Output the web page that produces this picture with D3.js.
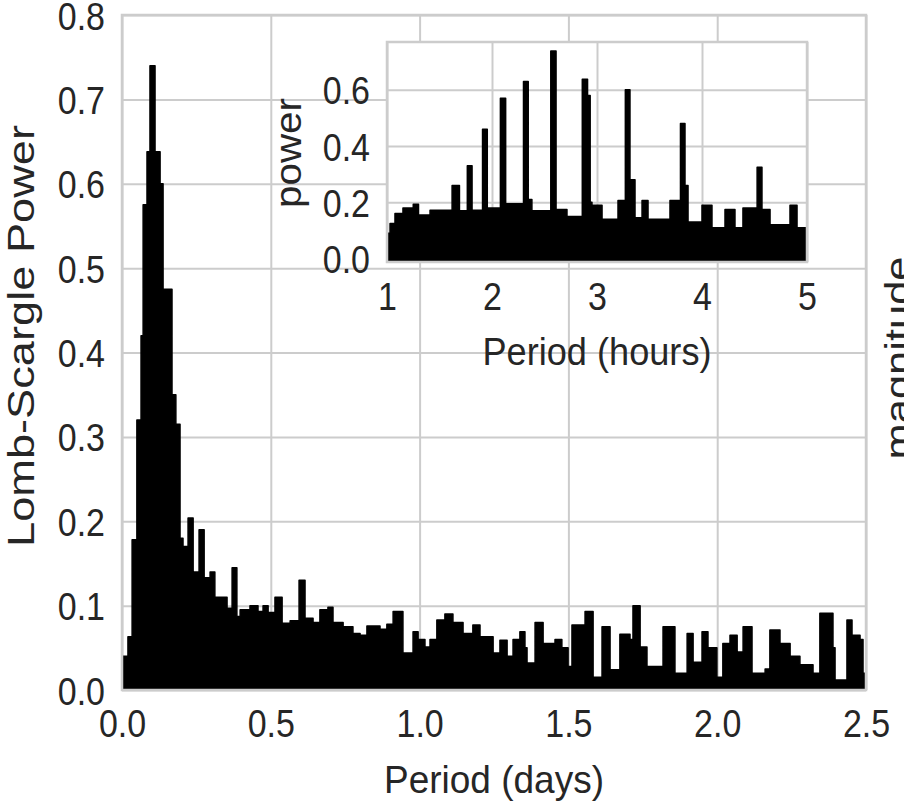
<!DOCTYPE html>
<html lang="en">
<head>
  <meta charset="utf-8">
  <script src="https://cdn.jsdelivr.net/npm/d3@7"></script>
  <style>
    body{margin:0;background:#fff;}
    text{font-family:"Liberation Sans",Arial,sans-serif;fill:#262626;}
    .grid line{stroke:#cccccc;stroke-width:2px;}
    .grid path{display:none;}
    .axis path,.axis line{display:none;}
  </style>
</head>
<body>
<svg id="chart" width="904" height="801"></svg>
<script>
// main periodogram (period in days, Lomb-Scargle power)
var mainPeriod=[0.000,0.020,0.034,0.050,0.064,0.071,0.084,0.094,0.111,0.128,0.138,0.168,0.181,0.195,0.205,0.222,0.239,0.259,0.276,0.296,
  0.312,0.353,0.370,0.386,0.397,0.430,0.457,0.474,0.491,0.514,0.538,0.565,0.595,0.615,0.642,0.665,0.692,0.709,0.743,0.776,
  0.800,0.823,0.867,0.890,0.911,0.944,0.978,0.995,1.018,1.035,1.058,1.085,1.112,1.146,1.179,1.203,1.247,1.270,1.294,1.314,
  1.337,1.354,1.361,1.388,1.415,1.455,1.478,1.499,1.512,1.556,1.583,1.613,1.640,1.673,1.707,1.717,1.741,1.764,1.818,1.858,
  1.899,1.919,1.949,1.969,1.999,2.019,2.043,2.067,2.087,2.117,2.161,2.177,2.211,2.245,2.278,2.322,2.345,2.389,2.396,2.436,
  2.453,2.480,2.490,2.500];
var mainPower=[0.040,0.063,0.178,0.320,0.420,0.575,0.638,0.740,0.638,0.600,0.475,0.350,0.315,0.180,0.170,0.204,0.140,0.190,0.133,0.140,
  0.110,0.097,0.145,0.087,0.095,0.100,0.093,0.100,0.092,0.110,0.079,0.082,0.130,0.085,0.080,0.095,0.098,0.080,0.075,0.067,
  0.065,0.076,0.072,0.078,0.093,0.044,0.069,0.060,0.051,0.060,0.083,0.090,0.080,0.067,0.077,0.063,0.044,0.059,0.040,0.060,
  0.069,0.050,0.032,0.080,0.055,0.060,0.050,0.028,0.077,0.093,0.015,0.075,0.024,0.066,0.060,0.100,0.051,0.028,0.075,0.020,
  0.067,0.033,0.069,0.050,0.015,0.055,0.065,0.045,0.075,0.020,0.025,0.071,0.055,0.040,0.030,0.020,0.091,0.050,0.012,0.083,
  0.065,0.060,0.020,0.020];

// inset periodogram (period in hours)
var insetPeriod=[1.000,1.029,1.076,1.152,1.250,1.300,1.410,1.620,1.690,1.765,1.810,1.910,1.955,2.080,2.130,2.300,2.345,2.380,2.560,2.610,
  2.714,2.860,2.910,2.935,2.952,3.048,3.200,3.270,3.314,3.362,3.429,3.486,3.695,3.795,3.838,3.867,4.000,4.095,4.219,4.314,
  4.390,4.525,4.571,4.648,4.838,4.905,5.000];
var insetPower=[0.090,0.125,0.160,0.180,0.193,0.155,0.172,0.260,0.170,0.330,0.172,0.460,0.180,0.570,0.195,0.630,0.210,0.170,0.738,0.175,
  0.150,0.638,0.580,0.200,0.190,0.140,0.207,0.600,0.280,0.145,0.207,0.140,0.207,0.480,0.260,0.130,0.190,0.110,0.175,0.110,
  0.180,0.325,0.175,0.120,0.190,0.110,0.110];

var mainXTicks=[0,0.5,1,1.5,2,2.5];
var mainYTicks=[0,0.1,0.2,0.3,0.4,0.5,0.6,0.7,0.8];
var insetXTicks=[1,2,3,4,5];
var insetYTicks=[0,0.2,0.4,0.6];

var svg=d3.select("#chart");
var fmt=d3.format(".1f");
var stretch="scale(1,1.15)";

//Main axes
var mx=d3.scaleLinear().domain([0,2.5]).range([122,866]);
var my=d3.scaleLinear().domain([0,0.8]).range([690,15]);

svg.append("g").attr("class","grid")
  .attr("transform","translate(0,690)")
  .call(d3.axisBottom(mx).tickValues(mainXTicks).tickSize(-675).tickFormat(""));
svg.append("g").attr("class","grid")
  .attr("transform","translate(122,0)")
  .call(d3.axisLeft(my).tickValues(mainYTicks).tickSize(-744).tickFormat(""));

svg.append("clipPath").attr("id","mainclip")
  .append("rect").attr("x",122).attr("y",15).attr("width",744).attr("height",675);

var mainData=mainPeriod.map(function(d,i){return [d,mainPower[i]];});
var mainArea=d3.area().curve(d3.curveStepAfter)
  .x(function(d){return mx(d[0]);})
  .y0(my(0))
  .y1(function(d){return my(d[1]);});

svg.append("path")
  .datum(mainData)
  .attr("clip-path","url(#mainclip)")
  .attr("d",mainArea)
  .attr("fill","#000")
  .attr("stroke","#000")
  .attr("stroke-width",1.5)
  .attr("stroke-linejoin","round");

svg.append("rect")
  .attr("x",122).attr("y",15).attr("width",744).attr("height",675)
  .attr("fill","none").attr("stroke","#cccccc").attr("stroke-width",2.5);

var xAx=svg.append("g").attr("class","axis")
  .attr("transform","translate(0,690)")
  .call(d3.axisBottom(mx).tickValues(mainXTicks).tickSize(0).tickPadding(17).tickFormat(fmt));
xAx.selectAll("text").style("font-size","34px").attr("transform",stretch).attr("fill","#262626");

var yAx=svg.append("g").attr("class","axis")
  .attr("transform","translate(122,0)")
  .call(d3.axisLeft(my).tickValues(mainYTicks).tickSize(0).tickPadding(17).tickFormat(fmt));
yAx.selectAll("text").style("font-size","34px").attr("dy","0.36em").attr("transform",stretch).attr("fill","#262626");

svg.append("text")
  .attr("transform","translate(494,793) scale(1,1.1)")
  .attr("text-anchor","middle")
  .attr("textLength",220).attr("lengthAdjust","spacingAndGlyphs")
  .style("font-size","36px")
  .text("Period (days)");

svg.append("text")
  .attr("transform","translate(34,336) rotate(-90)")
  .attr("text-anchor","middle")
  .attr("textLength",422).attr("lengthAdjust","spacingAndGlyphs")
  .style("font-size","36px")
  .text("Lomb-Scargle Power");

// label of the neighbouring panel, cut by the picture edge
svg.append("text")
  .attr("transform","translate(911,358) rotate(-90)")
  .attr("text-anchor","middle")
  .attr("textLength",203).attr("lengthAdjust","spacingAndGlyphs")
  .style("font-size","36px")
  .text("magnitude");

//Inset
var ix=d3.scaleLinear().domain([1,5]).range([387,807]);
var iy=d3.scaleLinear().domain([-0.012,0.77]).range([262,42]);

svg.append("rect")
  .attr("x",387).attr("y",42).attr("width",420).attr("height",220)
  .attr("fill","#fff");

svg.append("g").attr("class","grid")
  .attr("transform","translate(0,262)")
  .call(d3.axisBottom(ix).tickValues(insetXTicks).tickSize(-220).tickFormat(""));
svg.append("g").attr("class","grid")
  .attr("transform","translate(387,0)")
  .call(d3.axisLeft(iy).tickValues(insetYTicks).tickSize(-420).tickFormat(""));

svg.append("clipPath").attr("id","insetclip")
  .append("rect").attr("x",387).attr("y",42).attr("width",420).attr("height",220);

var insetData=insetPeriod.map(function(d,i){return [d,insetPower[i]];});
var insetArea=d3.area().curve(d3.curveStepAfter)
  .x(function(d){return ix(d[0]);})
  .y0(iy(-0.012))
  .y1(function(d){return iy(d[1]);});

svg.append("path")
  .datum(insetData)
  .attr("clip-path","url(#insetclip)")
  .attr("d",insetArea)
  .attr("fill","#000")
  .attr("stroke","#000")
  .attr("stroke-width",1.5)
  .attr("stroke-linejoin","round");

svg.append("rect")
  .attr("x",387).attr("y",42).attr("width",420).attr("height",220)
  .attr("fill","none").attr("stroke","#cccccc").attr("stroke-width",2.5);

var ixAx=svg.append("g").attr("class","axis")
  .attr("transform","translate(0,262)")
  .call(d3.axisBottom(ix).tickValues(insetXTicks).tickSize(0).tickPadding(18).tickFormat(d3.format("d")));
ixAx.selectAll("text").style("font-size","34px").attr("transform",stretch).attr("fill","#262626");

var iyAx=svg.append("g").attr("class","axis")
  .attr("transform","translate(387,0)")
  .call(d3.axisLeft(iy).tickValues(insetYTicks).tickSize(0).tickPadding(17).tickFormat(fmt));
iyAx.selectAll("text").style("font-size","34px").attr("dy","0.36em").attr("transform",stretch).attr("fill","#262626");

svg.append("text")
  .attr("transform","translate(597,365) scale(1,1.1)")
  .attr("text-anchor","middle")
  .attr("textLength",229).attr("lengthAdjust","spacingAndGlyphs")
  .style("font-size","36px")
  .text("Period (hours)");

svg.append("text")
  .attr("transform","translate(301,153) rotate(-90)")
  .attr("text-anchor","middle")
  .attr("textLength",110).attr("lengthAdjust","spacingAndGlyphs")
  .style("font-size","36px")
  .text("power");
</script>
</body>
</html>
